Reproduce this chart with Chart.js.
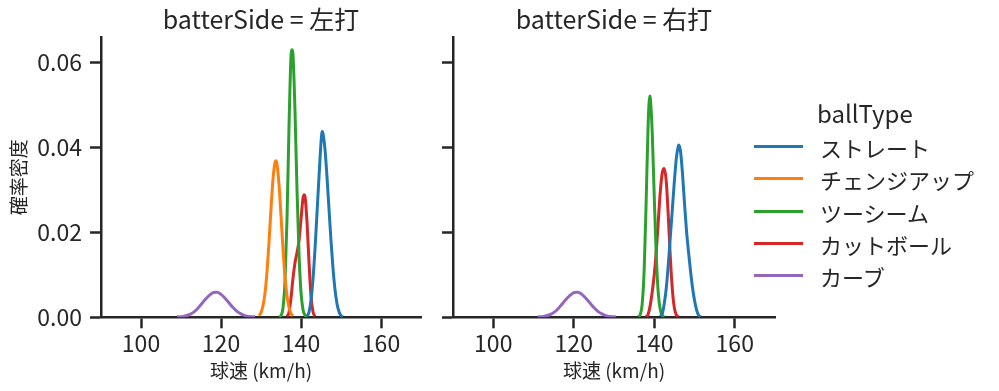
<!DOCTYPE html>
<html>
<head>
<meta charset="utf-8">
<script src="https://cdn.jsdelivr.net/npm/chart.js@4.4.1/dist/chart.umd.min.js"></script>
<style>
  body { margin: 0; background: #fff; width: 999px; height: 391px; overflow: hidden; position: relative; font-family: "Noto Sans CJK JP", sans-serif; color: #262626; }
  #c1 { position: absolute; left: 0; top: 0; }
  #c2 { position: absolute; left: 440px; top: 0; }
  #legend { position: absolute; left: 754px; top: 0; width: 245px; height: 391px; }
  .lg-title { position: absolute; left: 63px; top: 98px; font-size: 24px; line-height: 30px; }
  .lg-row { position: absolute; left: 0; height: 28px; }
  .lg-line { position: absolute; left: 0; top: 12px; width: 49px; height: 3px; }
  .lg-text { position: absolute; left: 66px; top: 0; font-size: 22px; line-height: 28px; white-space: nowrap; }
</style>
</head>
<body>
<canvas id="c1" width="440" height="391"></canvas>
<canvas id="c2" width="350" height="391"></canvas>
<div id="legend"></div>
<script>
// categories
const ballTypes = ["ストレート", "チェンジアップ", "ツーシーム", "カットボール", "カーブ"];
const facets = ["左打", "右打"];
const xTicks = [100, 120, 140, 160];
const yTicks = [0, 0.02, 0.04, 0.06];

// 左打 — density curves
const leftStraightX = [141.5, 142, 142.5, 143, 143.5, 144, 144.5, 145, 145.3, 145.5, 146, 146.5, 147, 147.5, 148, 148.5, 149, 149.5, 150, 150.5];
const leftStraightY = [0.0002, 0.0012, 0.0040, 0.0090, 0.0160, 0.0245, 0.0330, 0.0410, 0.0437, 0.0432, 0.0395, 0.0330, 0.0255, 0.0180, 0.0115, 0.0065, 0.0032, 0.0013, 0.0004, 0.0001];
const leftChangeX = [129.5, 130, 130.5, 131, 131.5, 132, 132.5, 133, 133.5, 133.7, 134, 134.5, 135, 135.5, 136, 136.5, 137, 137.5, 138];
const leftChangeY = [0.0004, 0.0011, 0.0027, 0.0057, 0.0107, 0.0176, 0.0255, 0.0325, 0.0364, 0.0368, 0.0360, 0.0313, 0.0239, 0.0161, 0.0095, 0.0050, 0.0023, 0.0009, 0.0003];
const leftTwoSeamX = [134.5, 135, 135.5, 136, 136.5, 137, 137.5, 137.8, 138, 138.5, 139, 139.5, 140, 140.5, 141, 141.5];
const leftTwoSeamY = [0.0001, 0.0004, 0.0022, 0.0085, 0.0231, 0.0448, 0.0612, 0.0629, 0.0618, 0.0485, 0.0300, 0.0150, 0.0059, 0.0018, 0.0005, 0.0001];
const leftCutX = [136.5, 137, 137.5, 138, 138.5, 139, 139.5, 140, 140.5, 140.8, 141, 141.5, 142, 142.5, 143, 143.5];
const leftCutY = [0.0002, 0.0012, 0.0045, 0.0092, 0.0128, 0.0152, 0.0180, 0.0230, 0.0280, 0.0288, 0.0284, 0.0225, 0.0130, 0.0050, 0.0013, 0.0002];
const leftCurveX = [109, 110, 111, 112, 113, 114, 115, 116, 117, 118, 118.7, 119, 120, 121, 122, 123, 124, 125, 126, 127, 128, 128.5];
const leftCurveY = [0.0001, 0.0001, 0.0003, 0.0006, 0.0011, 0.0019, 0.0030, 0.0041, 0.0051, 0.0058, 0.0059, 0.0059, 0.0054, 0.0045, 0.0034, 0.0023, 0.0014, 0.0008, 0.0004, 0.0002, 0.0001, 0.0001];

// 右打
const rightStraightX = [141.5, 142, 142.5, 143, 143.5, 144, 144.5, 145, 145.5, 146, 146.1, 146.5, 147, 147.5, 148, 148.5, 149, 149.5, 150, 150.5, 151, 151.5];
const rightStraightY = [0.0002, 0.0009, 0.0033, 0.0070, 0.0125, 0.0190, 0.0255, 0.0320, 0.0375, 0.0403, 0.0405, 0.0392, 0.0340, 0.0270, 0.0205, 0.0155, 0.0110, 0.0070, 0.0040, 0.0018, 0.0005, 0.0001];
const rightTwoSeamX = [136, 136.5, 137, 137.5, 138, 138.5, 138.9, 139, 139.5, 140, 140.5, 141, 141.5, 142, 142.5];
const rightTwoSeamY = [0.0001, 0.0006, 0.0031, 0.0112, 0.0276, 0.0459, 0.0520, 0.0517, 0.0434, 0.0284, 0.0145, 0.0057, 0.0018, 0.0004, 0.0001];
const rightCutX = [138, 138.5, 139, 139.5, 140, 140.5, 141, 141.5, 142, 142.5, 143, 143.5, 144, 144.5, 145, 145.5, 146];
const rightCutY = [0.0001, 0.0008, 0.0028, 0.0060, 0.0100, 0.0155, 0.0225, 0.0295, 0.0340, 0.0350, 0.0318, 0.0235, 0.0140, 0.0065, 0.0022, 0.0005, 0.0001];
const rightCurveX = [111, 112, 113, 114, 115, 116, 117, 118, 119, 120, 120.7, 121, 122, 123, 124, 125, 126, 127, 128, 129, 130, 130.5];
const rightCurveY = [0.0001, 0.0001, 0.0003, 0.0006, 0.0011, 0.0019, 0.0030, 0.0041, 0.0051, 0.0058, 0.0059, 0.0059, 0.0054, 0.0045, 0.0034, 0.0023, 0.0014, 0.0008, 0.0004, 0.0002, 0.0001, 0.0001];

const colors = ["#1f77b4", "#ff7f0e", "#2ca02c", "#d62728", "#9467bd"];
const ink = "#262626";
const font = '"Noto Sans CJK JP", sans-serif';

const pts = (xs, ys) => xs.map((x, i) => ({ x: x, y: ys[i] }));

const leftSeries = [
    pts(leftStraightX, leftStraightY),
    pts(leftChangeX, leftChangeY),
    pts(leftTwoSeamX, leftTwoSeamY),
    pts(leftCutX, leftCutY),
    pts(leftCurveX, leftCurveY),
];
const rightSeries = [
    pts(rightStraightX, rightStraightY),
    [],
    pts(rightTwoSeamX, rightTwoSeamY),
    pts(rightCutX, rightCutY),
    pts(rightCurveX, rightCurveY),
];

// facet title centred over the plot area
const facetTitle = {
    id: "facetTitle",
    afterDraw(chart, args, opts) {
        const { ctx, chartArea } = chart;
        ctx.save();
        ctx.font = "25px " + font;
        ctx.fillStyle = ink;
        ctx.textAlign = "center";
        ctx.textBaseline = "middle";
        ctx.fillText(opts.text, (chartArea.left + chartArea.right) / 2, 19);
        ctx.restore();
    },
};

const makeChart = function (id, side, series, first) {
    const datasets = series.map((d, i) => ({
        label: ballTypes[i],
        data: d,
        borderColor: colors[i],
        borderWidth: 3,
        pointRadius: 0,
        fill: false,
        cubicInterpolationMode: "monotone",
    }));
    return new Chart(document.getElementById(id), {
        type: "line",
        data: { datasets: datasets },
        options: {
            responsive: false,
            animation: false,
            layout: { padding: { top: 37, left: 0, right: first ? 19 : 15, bottom: 0 } },
            plugins: {
                legend: { display: false },
                tooltip: { enabled: false },
                facetTitle: { text: "batterSide = " + side },
            },
            scales: {
                x: {
                    type: "linear",
                    min: 90,
                    max: 170,
                    afterBuildTicks: (s) => { s.ticks = xTicks.map((v) => ({ value: v })); },
                    afterFit: (s) => { s.height = 73.7; },
                    grid: { drawOnChartArea: false, tickLength: 11, tickWidth: 2.5, tickColor: ink },
                    border: { color: ink, width: 2.5 },
                    ticks: { font: { family: font, size: 23 }, color: ink, padding: 1, maxRotation: 0 },
                    title: { display: true, text: "球速 (km/h)", font: { family: font, size: 19 }, color: ink, padding: { top: 0, bottom: 9 } },
                },
                y: {
                    min: 0,
                    max: 0.0659,
                    afterBuildTicks: (s) => { s.ticks = yTicks.map((v) => ({ value: v })); },
                    afterFit: (s) => { s.width = first ? 101 : 13; },
                    grid: { drawOnChartArea: false, tickLength: 11, tickWidth: 2.5, tickColor: ink },
                    border: { color: ink, width: 2.5 },
                    ticks: {
                        font: { family: font, size: 23 },
                        color: ink,
                        padding: 8,
                        callback: (v) => (first ? v.toFixed(2) : ""),
                    },
                    title: { display: first, text: "確率密度", font: { family: font, size: 19 }, color: ink, padding: { top: 7, bottom: 0 } },
                },
            },
        },
        plugins: [facetTitle],
    });
};

makeChart("c1", facets[0], leftSeries, true);
makeChart("c2", facets[1], rightSeries, false);

// legend
const legend = document.getElementById("legend");
const lt = document.createElement("div");
lt.className = "lg-title";
lt.textContent = "ballType";
legend.appendChild(lt);
ballTypes.forEach((name, i) => {
    const row = document.createElement("div");
    row.className = "lg-row";
    row.style.top = (133 + i * 32.3) + "px";
    row.innerHTML = '<div class="lg-line" style="background:' + colors[i] + '"></div><div class="lg-text">' + name + "</div>";
    legend.appendChild(row);
});
</script>
</body>
</html>
